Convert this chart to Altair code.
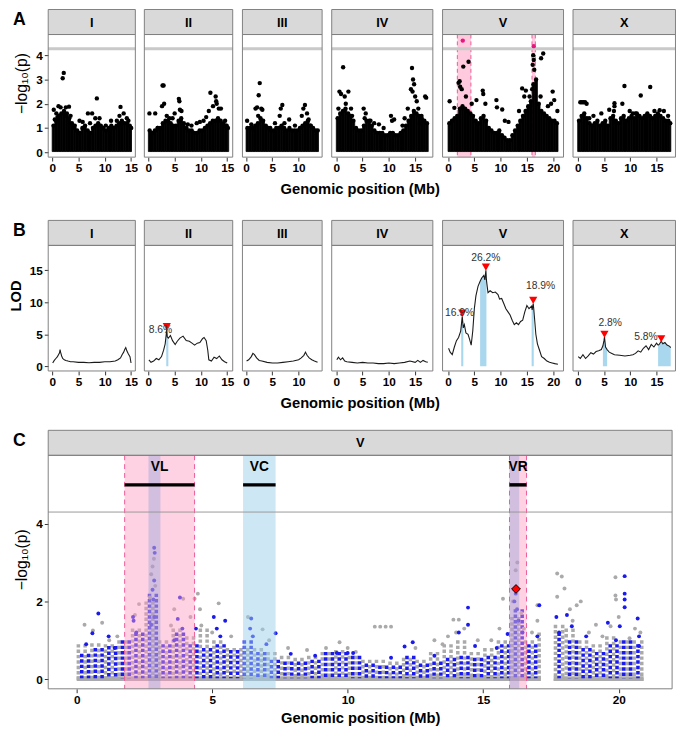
import altair as alt
import numpy as np
import pandas as pd

FONT = "Liberation Sans"

chroms = ["I", "II", "III", "IV", "V", "X"]
chrom_len = [15.07, 15.28, 13.78, 17.49, 20.92, 17.72]
chrom_ticks = [[0, 5, 10, 15], [0, 5, 10, 15], [0, 5, 10], [0, 5, 10, 15], [0, 5, 10, 15, 20], [0, 5, 10, 15]]

# ---------------- Panel A: dense cloud tops per 0.5 Mb bin ----------------
envA_I = [1.1,1.3,1.5,1.6,1.7,1.5,1.4,1.2,1.0,0.9,0.8,1.0,1.1,0.9,0.8,1.0,1.1,1.2,1.1,1.0,0.9,1.0,1.1,1.0,1.1,1.2,1.3,1.2,1.2,1.1,1.0]
envA_II = [0.9,0.8,0.9,1.0,1.0,1.2,1.3,1.3,1.2,1.1,1.1,1.3,1.4,1.2,1.0,0.9,0.9,0.8,0.8,0.9,0.9,1.0,1.1,1.2,1.3,1.3,1.4,1.3,1.2,1.1,1.0]
envA_III = [1.0,1.0,1.0,1.1,1.2,1.4,1.3,1.1,1.0,0.9,0.9,1.0,1.0,1.1,1.0,0.9,1.0,0.9,0.9,0.9,1.0,1.1,1.2,1.3,1.1,1.0,0.9,0.9]
envA_IV = [1.4,1.6,1.7,1.8,1.6,1.5,1.3,1.0,0.9,0.9,1.1,1.3,1.3,1.1,0.9,0.8,0.8,0.8,0.7,0.7,0.8,0.8,0.7,0.7,0.8,0.9,1.1,1.3,1.5,1.7,1.6,1.5,1.4,1.3,1.2]
envA_V = [1.2,1.3,1.4,1.5,1.8,1.9,1.8,1.7,1.6,1.5,1.3,1.2,1.4,1.5,1.3,1.0,0.9,0.8,0.8,0.9,0.7,0.6,0.5,0.5,0.7,0.9,1.1,1.3,1.5,1.7,1.9,2.1,2.8,3.0,2.0,1.7,1.6,1.5,1.4,1.3,1.3,1.2]
envA_X = [1.3,1.5,1.6,1.4,1.2,1.1,1.2,1.3,1.1,1.2,1.3,1.1,1.4,1.5,1.3,1.2,1.4,1.5,1.3,1.4,1.5,1.4,1.6,1.5,1.4,1.5,1.6,1.5,1.4,1.5,1.6,1.5,1.4,1.3,1.3,1.2]

# ---------------- Panel A: scattered points above the cloud ----------------
ptsA_I = [(2.0,3.05),(2.2,3.27),(8.5,2.22),(13.0,1.87),(1.2,1.9),(1.6,1.85),(2.6,1.85),(3.2,1.88),(0.3,1.75),(0.8,1.6),
          (6.8,1.6),(7.6,1.6),(9.0,1.4),(8.2,1.4),(13.6,1.6),(14.2,1.4),(5.2,1.3),(5.8,1.25),(11.2,1.3),(12.3,1.3),
          (10.2,1.1),(4.3,1.1),(14.5,1.3),(1.0,1.45),(2.8,1.6),(3.5,1.5),(0.5,1.35),(12.8,1.5),(13.3,1.2),(7.2,1.2)]
ptsA_II = [(0.2,1.6),(1.3,1.6),(2.7,2.75),(2.9,2.75),(3.0,2.0),(2.6,1.9),(5.8,2.2),(5.9,2.1),(6.0,1.75),(6.3,1.7),
           (4.0,1.4),(3.5,1.5),(11.8,2.45),(12.8,2.3),(12.9,2.1),(13.0,2.0),(13.4,1.8),(13.8,1.8),(11.5,1.7),(11.0,1.45),
           (12.3,1.9),(14.6,1.3),(14.9,1.1),(9.2,1.2),(9.8,1.25),(8.2,1.1),(7.5,1.15),(5.0,1.6),(4.6,1.4),(10.5,1.3),(1.8,1.0)]
ptsA_III = [(2.6,2.85),(2.4,2.35),(2.1,1.85),(2.9,1.8),(3.1,1.75),(1.8,1.8),(2.3,1.5),(6.9,1.95),(6.6,1.8),(6.4,1.5),
            (7.3,1.2),(8.2,1.35),(11.2,1.95),(10.9,1.8),(11.6,1.6),(10.6,1.5),(12.3,1.1),(0.2,1.3),(1.0,1.15),(4.6,1.0),
            (5.5,1.2),(9.3,1.1),(11.9,1.35)]
ptsA_IV = [(1.3,3.5),(2.3,2.5),(0.6,2.5),(0.9,2.4),(1.8,2.0),(0.4,1.8),(2.8,1.8),(1.6,2.3),(3.0,1.5),(5.2,1.8),
           (5.6,1.6),(5.4,1.4),(6.5,1.3),(7.2,1.2),(8.1,1.15),(9.0,1.0),(10.4,1.5),(10.6,1.3),(11.0,1.35),(13.0,1.4),
           (14.4,3.47),(14.6,3.0),(14.8,2.8),(14.2,2.6),(14.5,2.5),(15.0,2.3),(15.3,2.1),(16.9,2.3),(17.1,2.25),(13.6,1.8),
           (15.6,1.8),(16.2,1.5),(12.6,1.1),(15.9,1.2)]
ptsA_V = [(2.9,3.53),(3.9,3.73),(2.0,2.86),(2.3,2.7),(2.6,2.6),(2.2,2.93),(0.3,2.1),(1.2,1.83),(5.4,2.15),(6.6,2.54),
          (6.7,2.4),(7.1,2.0),(9.2,2.15),(9.3,1.85),(10.3,1.76),(10.8,1.3),(11.5,1.25),(14.1,2.63),(14.8,2.54),(14.5,2.3),
          (19.9,2.5),(20.2,2.15),(20.8,1.7),(19.6,2.0),(19.0,1.9),(16.2,4.0),(16.3,3.8),(16.1,3.6),(16.4,3.4),(17.7,3.87),
          (18.1,4.07),(17.6,2.3),(16.0,2.6),(15.5,2.3),(13.5,1.7),(3.4,2.3),(4.5,2.0)]
ptsA_X = [(0.5,2.06),(0.8,2.06),(1.1,2.06),(1.4,2.06),(1.7,2.0),(8.9,2.73),(13.8,2.69),(12.0,2.34),(7.0,2.02),(7.0,1.9),
          (6.9,1.7),(8.5,2.0),(9.9,1.7),(14.6,1.7),(15.6,1.73),(16.4,1.7),(6.0,1.75),(3.0,1.5),(4.5,1.6),(11.0,1.6),
          (2.2,1.4),(10.5,1.6),(17.2,1.5)]
sigA_V = [(2.8, 4.6), (16.3, 4.37)]
threshA = 4.26

# regions on chromosome V (Mb)
pink_lo = [1.77, 15.97]
pink_hi = [4.35, 16.60]

# ---------------- Panel B: LOD curves ----------------
lod_I = [(0.1,0.5),(0.4,0.9),(0.7,1.2),(1.0,1.5),(1.2,1.8),(1.4,2.1),(1.5,2.6),(1.6,2.2),(1.8,1.6),(2.0,1.2),
         (2.3,1.0),(2.6,0.9),(3.0,0.8),(3.5,0.7),(4.0,0.7),(5.0,0.6),(6.0,0.6),(7.0,0.55),(8.0,0.6),(9.0,0.6),
         (10.0,0.7),(11.0,0.7),(12.0,0.8),(12.5,1.0),(13.0,1.3),(13.3,1.8),(13.6,2.2),(13.8,2.6),(14.0,2.9),(14.2,2.4),
         (14.5,1.9),(14.8,1.5),(15.0,0.5)]
lod_II = [(0.1,1.0),(0.5,0.6),(1.0,0.8),(1.5,1.2),(2.0,1.0),(2.5,1.5),(2.9,2.5),(3.2,3.5),(3.4,5.0),(3.5,5.8),
          (3.6,4.6),(3.8,4.4),(4.2,4.8),(4.6,4.0),(5.1,3.4),(5.5,3.9),(6.0,4.4),(6.6,4.7),(7.2,4.0),(7.8,3.9),
          (8.3,3.6),(8.8,3.3),(9.3,3.6),(9.8,3.7),(10.3,4.3),(10.6,4.5),(11.0,4.0),(11.3,2.5),(11.5,1.0),(12.0,0.8),
          (12.5,1.4),(13.0,1.2),(13.5,1.6),(14.0,1.0),(14.5,0.7),(15.0,0.5)]
lod_III = [(0.1,0.8),(0.5,1.0),(1.0,1.5),(1.3,2.0),(1.6,1.8),(2.0,1.3),(2.5,0.9),(3.0,0.8),(4.0,0.6),(5.0,0.5),
           (6.0,0.5),(7.0,0.6),(8.0,0.7),(9.0,0.8),(10.0,1.0),(10.5,1.3),(11.0,1.7),(11.3,2.2),(11.6,1.7),(12.0,1.3),
           (12.5,1.0),(13.0,0.8),(13.6,0.6)]
lod_IV = [(0.1,1.0),(0.4,1.4),(0.8,1.0),(1.2,1.3),(1.6,0.8),(2.0,0.7),(3.0,0.6),(4.0,0.5),(5.0,0.6),(6.0,0.5),
          (7.0,0.5),(8.0,0.4),(9.0,0.4),(10.0,0.5),(11.0,0.4),(12.0,0.5),(13.0,0.6),(14.0,0.8),(15.0,0.6),(15.5,0.9),
          (16.0,0.6),(16.5,0.9),(17.0,0.7),(17.4,0.6)]
lod_V = [(0.1,2.8),(0.4,2.2),(0.8,1.8),(1.2,3.0),(1.6,4.0),(2.0,4.5),(2.4,5.5),(2.5,6.2),(2.7,7.8),(2.9,6.0),
         (3.1,6.5),(3.4,5.2),(3.8,5.0),(4.1,4.2),(4.4,3.3),(4.7,5.5),(5.0,9.0),(5.3,11.0),(5.7,12.5),(6.1,13.3),
         (6.4,13.8),(6.8,14.2),(7.0,13.5),(7.2,15.0),(7.3,13.5),(7.4,12.8),(7.6,11.5),(8.0,11.8),(8.5,11.5),(9.0,11.6),
         (9.5,11.2),(9.8,10.5),(10.2,10.6),(10.6,9.8),(11.0,9.0),(11.4,8.5),(11.8,8.0),(12.2,7.2),(12.6,6.5),(13.0,6.8),
         (13.4,6.5),(13.8,7.0),(14.2,7.2),(14.6,8.5),(15.0,9.5),(15.4,9.0),(15.9,9.4),(16.0,8.8),(16.2,9.8),(16.3,9.0),
         (16.4,8.0),(16.7,5.0),(17.0,3.5),(17.4,2.5),(17.8,1.5),(18.3,1.2),(18.8,0.8),(19.3,0.6),(19.8,0.5),(20.3,0.4),
         (20.9,0.3)]
lod_X = [(0.1,1.5),(0.5,1.2),(1.0,1.8),(1.5,1.2),(2.0,1.6),(2.5,2.1),(3.0,1.9),(3.5,2.3),(4.0,2.4),(4.5,2.6),
         (4.8,3.2),(5.0,4.0),(5.1,4.6),(5.3,3.0),(5.6,2.6),(6.0,2.2),(6.5,2.0),(7.0,1.8),(8.0,1.7),(9.0,1.6),
         (10.0,1.7),(10.5,1.8),(11.0,2.0),(11.5,2.4),(12.0,2.2),(12.5,2.8),(13.0,3.2),(13.5,2.6),(14.0,3.4),(14.5,3.0),
         (15.0,3.6),(15.3,3.3),(15.5,3.4),(15.9,3.9),(16.2,3.5),(16.6,3.7),(17.0,3.3),(17.5,3.1),(17.7,2.9)]
bands_B = {"II": [(3.4, 3.8)], "V": [(2.5, 2.9), (6.1, 7.3), (15.9, 16.3)], "X": [(4.8, 5.6), (15.3, 17.7)]}
peaks_B = {"II": [(3.5, 6.2)], "V": [(2.7, 8.3), (7.2, 15.5), (16.2, 10.3)], "X": [(5.1, 5.0), (15.9, 4.3)]}
labels_B = {"II": [(2.3, 5.6, "8.6%")], "V": [(2.2, 8.3, "16.9%"), (7.2, 16.9, "26.2%"), (17.6, 12.6, "18.9%")],
            "X": [(6.2, 6.8, "2.8%"), (13.0, 4.6, "5.8%")]}

# ---------------- Panel C: chromosome V detail ----------------
c_bin_lo = [0.0,0.5,1.0,1.5,2.0,2.5,3.0,3.5,4.0,4.5,5.0,5.5,6.0,6.5,7.0,7.5,8.0,8.5,9.0,9.5,10.0,10.5,11.0,11.5,
            12.0,12.5,13.0,13.5,14.0,14.5,15.0,15.5,16.0,16.5,17.0,17.6,18.0,18.5,19.0,19.5,20.0,20.5]
c_bin_hi = [0.5,1.0,1.5,2.0,2.5,3.0,3.5,4.0,4.5,5.0,5.5,6.0,6.5,7.0,7.5,8.0,8.5,9.0,9.5,10.0,10.5,11.0,11.5,12.0,
            12.5,13.0,13.5,14.0,14.5,15.0,15.5,16.0,16.5,17.0,17.13,18.0,18.5,19.0,19.5,20.0,20.5,20.92]
c_gray_top = [0.9,0.92,0.9,1.0,1.3,2.0,1.0,1.3,1.1,1.3,1.0,0.8,0.8,0.8,0.7,0.6,0.55,0.6,0.7,0.75,0.6,0.5,0.5,0.45,
              0.55,0.5,0.7,0.9,1.0,0.7,0.8,1.0,1.6,1.0,1.2,1.4,1.3,1.0,0.9,1.1,1.0,1.0]
c_blue_top = [0.65,0.8,0.85,1.0,1.2,2.2,0.9,1.2,0.9,0.8,0.9,0.75,1.0,0.7,0.5,0.45,0.45,0.5,0.7,0.7,0.6,0.4,0.35,0.35,
              0.6,0.4,0.45,0.55,0.6,0.55,0.6,0.9,1.8,0.9,0.8,1.2,1.0,0.8,0.7,0.9,1.0,0.9]
c_gray_pts = [(0.29,1.4),(0.94,1.45),(0.6,1.25),(1.2,1.0),(1.5,1.1),(2.3,1.93),(2.15,1.65),(2.85,3.1),(2.8,2.9),(2.75,2.7),
              (2.9,2.4),(2.7,2.1),(3.6,1.8),(3.93,2.07),(3.48,1.38),(4.2,1.6),(4.47,2.2),(4.35,2.07),(4.6,1.38),(4.55,1.8),
              (5.24,1.95),(5.0,1.2),(5.7,1.1),(6.32,1.6),(6.86,1.28),(7.1,1.0),(7.8,0.8),(8.5,0.75),(9.2,0.8),(9.7,0.95),
              (10.0,0.8),(10.3,0.7),(11.0,1.35),(11.2,1.35),(11.4,1.35),(11.6,1.35),(12.5,0.8),(13.2,1.0),(13.5,0.9),(13.7,1.1),
              (13.9,1.53),(14.1,1.53),(14.3,1.3),(14.0,1.2),(14.8,1.0),(15.3,1.0),(15.73,2.07),(15.6,1.3),(16.26,3.0),(16.2,2.8),
              (16.1,2.0),(16.4,1.7),(16.5,1.3),(17.0,1.5),(17.0,1.9),(16.8,1.2),(17.73,2.72),(17.9,2.64),(18.0,2.33),(17.73,2.12),
              (18.2,1.8),(18.45,1.9),(18.6,2.0),(18.3,1.5),(18.9,1.2),(19.16,1.4),(19.4,1.1),(19.88,2.62),(19.88,2.15),(19.9,2.05),
              (19.7,1.36),(20.0,1.6),(20.4,1.05),(20.6,1.3),(20.8,1.2)]
c_blue_pts = [(0.8,1.69),(0.58,1.18),(1.18,1.1),(1.4,0.8),(0.35,0.9),(2.08,1.6),(2.1,1.5),(2.2,1.2),(2.86,3.38),(2.88,3.25),
              (2.86,2.54),(2.8,2.3),(2.83,2.05),(2.86,1.6),(2.75,1.4),(3.81,2.1),(3.73,1.55),(3.9,1.3),(3.6,1.0),(4.4,1.3),
              (5.06,1.6),(5.48,1.5),(5.17,1.3),(5.3,1.1),(6.44,1.56),(6.5,1.1),(6.4,1.3),(7.34,1.18),(7.0,0.9),(7.9,0.65),
              (8.8,0.6),(9.6,0.67),(10.0,0.67),(10.2,0.67),(12.1,0.84),(12.4,0.95),(11.6,0.55),(13.2,0.6),(14.44,1.84),(14.44,1.4),
              (14.1,1.2),(14.7,0.85),(15.5,0.8),(15.9,1.16),(16.2,2.2),(16.15,2.0),(16.25,1.8),(16.3,1.5),(16.45,1.2),(17.07,1.9),
              (17.0,1.1),(18.09,1.65),(17.7,1.6),(18.27,1.36),(18.8,1.1),(17.8,1.2),(19.6,1.45),(20.22,2.65),(20.22,2.2),(20.22,2.05),
              (20.22,1.85),(20.7,1.56),(20.04,1.36),(20.75,1.1),(20.75,0.85),(19.9,1.0)]
lead_marker = [(16.21, 2.32)]
threshC = 4.3
region_names = ["VL", "VC", "VR"]
region_lo = [1.77, 6.14, 15.97]
region_hi = [4.35, 7.34, 16.60]
purple_lo = [2.65, 15.97]
purple_hi = [3.09, 16.33]

# ---------------- layout constants ----------------
GAP = 9
ROW_W = 636
K = (ROW_W - 5 * GAP) / (1.1 * sum(chrom_len))   # px per Mb in A/B
STRIP = 26
HA = 125
HB = 128
HC = 238
LETTER_X = -36
one = pd.DataFrame({"v": [0]})


def deco(w, H, label, letter=None, xtitle=False):
    lay = [
        alt.Chart(one).mark_rect(fill="#d9d9d9", stroke="#7f7f7f", strokeWidth=1).encode(
            x=alt.value(0), x2=alt.value(w), y=alt.value(0.5), y2=alt.value(STRIP)),
        alt.Chart(one).mark_text(text=label, font=FONT, fontSize=13, fontWeight="bold", color="black",
                                 baseline="middle").encode(x=alt.value(w / 2), y=alt.value(STRIP / 2 + 1)),
        alt.Chart(one).mark_rect(fillOpacity=0, stroke="#7f7f7f", strokeWidth=1).encode(
            x=alt.value(0), x2=alt.value(w), y=alt.value(STRIP), y2=alt.value(H)),
    ]
    if letter:
        lay.append(alt.Chart(one).mark_text(text=letter, font=FONT, fontSize=18, fontWeight="bold", color="black",
                                            align="left", baseline="top").encode(
            x=alt.value(LETTER_X), y=alt.value(2)))
    if xtitle:
        lay.append(alt.Chart(one).mark_text(text="Genomic position (Mb)", font=FONT, fontSize=15, fontWeight="bold",
                                            color="black", align="center", baseline="middle").encode(
            x=alt.value(ROW_W / 2), y=alt.value(H + 33)))
    return lay


def env_df(L, env):
    lo = np.arange(len(env)) * 0.5
    hi = np.minimum(lo + 0.5, L)
    return pd.DataFrame({"lo": lo, "hi": hi, "mid": (lo + hi) / 2, "top": env})


def pts_df(pts):
    return pd.DataFrame(pts, columns=["pos", "val"])


envA = [envA_I, envA_II, envA_III, envA_IV, envA_V, envA_X]
ptsA = [ptsA_I, ptsA_II, ptsA_III, ptsA_IV, ptsA_V, ptsA_X]
lods = [lod_I, lod_II, lod_III, lod_IV, lod_V, lod_X]


def panel_A(i):
    c, L = chroms[i], chrom_len[i]
    w = 1.1 * L * K
    H = HA + STRIP
    ymin, ymax = -0.2, 4.85
    ytop = ymax + STRIP * (ymax - ymin) / HA
    xs = alt.Scale(domain=[-0.05 * L, 1.05 * L], nice=False, zero=False)
    ys = alt.Scale(domain=[ymin, ytop], nice=False, zero=False)
    xa = alt.Axis(values=chrom_ticks[i], title=None, format="d")
    ya = alt.Axis(values=[0, 1, 2, 3, 4], title="−log₁₀(p)", titleFontWeight="normal", titleFontSize=16,
                  format="d") if i == 0 else None

    def X(f):
        return alt.X(f, type="quantitative", scale=xs, axis=xa)

    def Y(f):
        return alt.Y(f, type="quantitative", scale=ys, axis=ya)

    layers = []
    if c == "V":
        pk = pd.DataFrame({"lo": pink_lo, "hi": pink_hi})
        layers.append(alt.Chart(pk).mark_rect(color="#ffc4da", opacity=0.9).encode(
            x=X("lo"), x2="hi", y=alt.value(STRIP), y2=alt.value(H)))
        edges = pd.DataFrame({"e": pink_lo + pink_hi})
        layers.append(alt.Chart(edges).mark_rule(color="#ee5a96", strokeDash=[4, 3], strokeWidth=1).encode(
            x=X("e"), y=alt.value(STRIP), y2=alt.value(H)))
    ed = env_df(L, envA[i])
    ed["base"] = 0.03
    layers.append(alt.Chart(ed).mark_rect(color="black", stroke="black", strokeWidth=0.8).encode(
        x=X("lo"), x2="hi", y=Y("top"), y2="base"))
    layers.append(alt.Chart(ed).mark_circle(color="black", size=20, opacity=1).encode(x=X("mid"), y=Y("top")))
    layers.append(alt.Chart(pts_df(ptsA[i])).mark_circle(color="black", size=20, opacity=1).encode(
        x=X("pos"), y=Y("val")))
    th = pd.DataFrame({"t": [threshA]})
    layers.append(alt.Chart(th).mark_rule(color="#c9c9c9", strokeWidth=3).encode(
        y=Y("t"), x=alt.value(0), x2=alt.value(w)))
    if c == "V":
        layers.append(alt.Chart(pts_df(sigA_V)).mark_circle(color="#e8177d", size=20, opacity=1).encode(
            x=X("pos"), y=Y("val")))
    layers += deco(w, H, c, "A" if i == 0 else None, xtitle=(i == 0))
    return alt.layer(*layers).properties(width=w, height=H)


def panel_B(i):
    c, L = chroms[i], chrom_len[i]
    w = 1.1 * L * K
    H = HB + STRIP
    ymin, ymax = -0.75, 18.9
    ytop = ymax + STRIP * (ymax - ymin) / HB
    xs = alt.Scale(domain=[-0.05 * L, 1.05 * L], nice=False, zero=False)
    ys = alt.Scale(domain=[ymin, ytop], nice=False, zero=False)
    xa = alt.Axis(values=chrom_ticks[i], title=None, format="d")
    ya = alt.Axis(values=[0, 5, 10, 15], title="LOD", format="d") if i == 0 else None

    def X(f):
        return alt.X(f, type="quantitative", scale=xs, axis=xa)

    def Y(f):
        return alt.Y(f, type="quantitative", scale=ys, axis=ya)

    ld = pts_df(lods[i])
    layers = []
    if c in bands_B:
        parts = []
        for k, (lo, hi) in enumerate(bands_B[c]):
            sub = ld[(ld.pos >= lo) & (ld.pos <= hi)].copy()
            sub["band"] = k
            parts.append(sub)
        bd = pd.concat(parts)
        bd["zero"] = 0.0
        layers.append(alt.Chart(bd).mark_area(color="#a9d7ee", opacity=1).encode(
            x=X("pos"), y=Y("val"), y2="zero", detail="band:N"))
    layers.append(alt.Chart(ld).mark_line(color="#1a1a1a", strokeWidth=1.1).encode(x=X("pos"), y=Y("val")))
    if c in peaks_B:
        layers.append(alt.Chart(pts_df(peaks_B[c])).mark_point(
            shape="triangle-down", filled=True, color="red", size=70, opacity=1).encode(x=X("pos"), y=Y("val")))
        lb = pd.DataFrame(labels_B[c], columns=["pos", "val", "txt"])
        layers.append(alt.Chart(lb).mark_text(font=FONT, fontSize=10.5, color="#333333").encode(
            x=X("pos"), y=Y("val"), text="txt:N"))
    layers += deco(w, H, c, "B" if i == 0 else None, xtitle=(i == 0))
    return alt.layer(*layers).properties(width=w, height=H)


def panel_C():
    w = ROW_W
    H = HC + STRIP
    ymin, ymax = -0.25, 5.76
    ytop = ymax + STRIP * (ymax - ymin) / HC
    xs = alt.Scale(domain=[-1.05, 21.97], nice=False, zero=False)
    ys = alt.Scale(domain=[ymin, ytop], nice=False, zero=False)
    xa = alt.Axis(values=[0, 5, 10, 15, 20], title="Genomic position (Mb)", format="d", titlePadding=5,
                  titleFontSize=15)
    ya = alt.Axis(values=[0, 2, 4], title="−log₁₀(p)", titleFontWeight="normal", titleFontSize=16, format="d")

    def X(f):
        return alt.X(f, type="quantitative", scale=xs, axis=xa)

    def Y(f):
        return alt.Y(f, type="quantitative", scale=ys, axis=ya)

    # dotted columns inside each bin (gray and blue interleaved) for the dense low region
    rows = []
    for lo, hi, g, b in zip(c_bin_lo, c_bin_hi, c_gray_top, c_blue_top):
        n = max(1, int(round((hi - lo) / 0.125)))
        step = (hi - lo) / n
        for j in range(n):
            xc = lo + step * (j + 0.5)
            if j % 2 == 0:
                rows.append({"x": xc, "top": g, "base": -0.04, "kind": "g"})
            else:
                rows.append({"x": xc, "top": b, "base": 0.02, "kind": "b"})
    cols = pd.DataFrame(rows)
    base = pd.DataFrame({"lo": [0.0, 17.6], "hi": [17.13, 20.92], "y0": [-0.05, -0.05], "y1": [0.07, 0.07]})
    layers = [
        alt.Chart(base).mark_rect(color="#aaaaaa").encode(x=X("lo"), x2="hi", y=Y("y1"), y2="y0"),
        alt.Chart(cols[cols.kind == "g"]).mark_rule(color="#aaaaaa", strokeWidth=3.6, strokeDash=[3.5, 2]).encode(
            x=X("x"), y=Y("top"), y2="base"),
        alt.Chart(cols[cols.kind == "b"]).mark_rule(color="#1a1aee", strokeWidth=3.6, strokeDash=[3.5, 2]).encode(
            x=X("x"), y=Y("top"), y2="base"),
        alt.Chart(pts_df(c_gray_pts)).mark_circle(color="#aaaaaa", size=16, opacity=1).encode(x=X("pos"), y=Y("val")),
        alt.Chart(pts_df(c_blue_pts)).mark_circle(color="#1a1aee", size=16, opacity=1).encode(x=X("pos"), y=Y("val")),
    ]
    reg = pd.DataFrame({"name": region_names, "lo": region_lo, "hi": region_hi,
                        "mid": [(a + b) / 2 for a, b in zip(region_lo, region_hi)],
                        "seg": [5.0, 5.0, 5.0], "lab": [5.47, 5.47, 5.47]})
    pk = pd.DataFrame({"lo": pink_lo, "hi": pink_hi})
    pu = pd.DataFrame({"lo": purple_lo, "hi": purple_hi})
    vc = reg[reg.name == "VC"]
    th = pd.DataFrame({"t": [threshC]})
    layers += [
        alt.Chart(pk).mark_rect(color="#ff9cc2", opacity=0.45).encode(x=X("lo"), x2="hi", y=alt.value(STRIP), y2=alt.value(H)),
        alt.Chart(pu).mark_rect(color="#7d9cd8", opacity=0.35).encode(x=X("lo"), x2="hi", y=alt.value(STRIP), y2=alt.value(H)),
        alt.Chart(vc).mark_rect(color="#9ed0ea", opacity=0.5).encode(x=X("lo"), x2="hi", y=alt.value(STRIP), y2=alt.value(H)),
        alt.Chart(pd.DataFrame({"e": pink_lo + pink_hi})).mark_rule(color="#ee5a96", strokeDash=[5, 4], strokeWidth=1).encode(
            x=X("e"), y=alt.value(STRIP), y2=alt.value(H)),
        alt.Chart(th).mark_rule(color="#999999", strokeWidth=1).encode(y=Y("t"), x=alt.value(0), x2=alt.value(w)),
        alt.Chart(reg).mark_rule(color="black", strokeWidth=3.5).encode(x=X("lo"), x2="hi", y=Y("seg")),
        alt.Chart(reg).mark_text(font=FONT, fontSize=14, fontWeight="bold", color="black").encode(
            x=X("mid"), y=Y("lab"), text="name:N"),
        alt.Chart(pts_df(lead_marker)).mark_point(shape="diamond", filled=True, fill="red", stroke="black",
                                                  strokeWidth=1, size=80, opacity=1).encode(x=X("pos"), y=Y("val")),
    ]
    layers += deco(w, H, "V", "C")
    return alt.layer(*layers).properties(width=w, height=H)


rowA = alt.hconcat(*[panel_A(i) for i in range(6)], spacing=GAP, bounds="flush")
rowB = alt.hconcat(*[panel_B(i) for i in range(6)], spacing=GAP, bounds="flush")
rowC = panel_C()

top = alt.vconcat(rowA, rowB, spacing=23)
chart = alt.vconcat(top, rowC, spacing=19).configure_view(stroke=None).configure_axis(
    labelFont=FONT, labelFontSize=12, labelFontWeight="bold", labelColor="black",
    titleFont=FONT, titleFontSize=15, titleFontWeight="bold", titleColor="black",
    tickColor="#333333", tickSize=4, labelPadding=2, domain=False, grid=False, titlePadding=6
).properties(padding={"left": 0, "top": -6, "right": 0, "bottom": 0})

chart.save("out.html", embed_options={"renderer": "svg", "actions": False})
